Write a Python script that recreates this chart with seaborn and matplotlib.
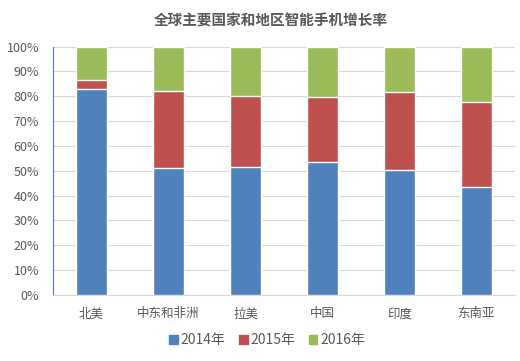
import matplotlib
matplotlib.use("Agg")
import matplotlib.pyplot as plt
import seaborn as sns
import pandas as pd
from matplotlib.patches import Patch
from matplotlib.ticker import PercentFormatter

# Share of each year per region (percent)
regions = ["北美", "中东和非洲", "拉美", "中国", "印度", "东南亚"]
share_2014 = [83.0, 51.0, 51.7, 53.7, 50.3, 43.5]
share_2015 = [3.6, 31.3, 28.4, 25.8, 31.3, 34.2]
share_2016 = [13.4, 17.7, 19.9, 20.5, 18.4, 22.3]
years = ["2014年", "2015年", "2016年"]
colors = ["#4F81BD", "#C0504D", "#9BBB59"]

df = pd.DataFrame({"region": regions, "y2014": share_2014,
                   "y2015": share_2015, "y2016": share_2016})
df["c1"] = df["y2014"]
df["c2"] = df["c1"] + df["y2015"]
df["c3"] = df["c2"] + df["y2016"]

sns.set_style("white")
plt.rcParams["font.family"] = ["Noto Sans CJK SC", "DejaVu Sans"]

fig = plt.figure(figsize=(5.2, 3.61), dpi=100)
ax = fig.add_axes([0.102, 0.183, 0.888, 0.688])

# stacked bars: draw cumulative totals from the top down
for col, c in zip(["c3", "c2", "c1"], colors[::-1]):
    sns.barplot(data=df, x="region", y=col, color=c, width=0.4,
                saturation=1, ax=ax, zorder=3)

ax.set_ylim(0, 100)
ax.set_yticks(range(0, 101, 10))
ax.yaxis.set_major_formatter(PercentFormatter(decimals=0))
ax.grid(axis="y", color="#D9D9D9", linewidth=0.8, zorder=0)
ax.set_xlabel("")
ax.set_ylabel("")

for s in ["top", "right"]:
    ax.spines[s].set_visible(False)
ax.spines["bottom"].set_color("#D9D9D9")
ax.spines["left"].set_color("#4F81BD")
ax.tick_params(axis="y", direction="in", length=4, color="#4F81BD",
               labelsize=9, labelcolor="#595959", pad=10)
ax.tick_params(axis="x", length=0, labelsize=9, labelcolor="#595959", pad=9)

fig.suptitle("全球主要国家和地区智能手机增长率", x=0.52, y=0.965,
             fontsize=10.5, fontweight="bold", color="#595959")

handles = [Patch(color=c, label=y) for c, y in zip(colors, years)]
fig.legend(handles=handles, loc="center", bbox_to_anchor=(0.514, 0.058),
           ncol=3, frameon=False, fontsize=10, handlelength=0.6,
           handleheight=0.6, handletextpad=0.2, columnspacing=1.0,
           labelcolor="#595959")

fig.savefig("out.png", dpi=100)
